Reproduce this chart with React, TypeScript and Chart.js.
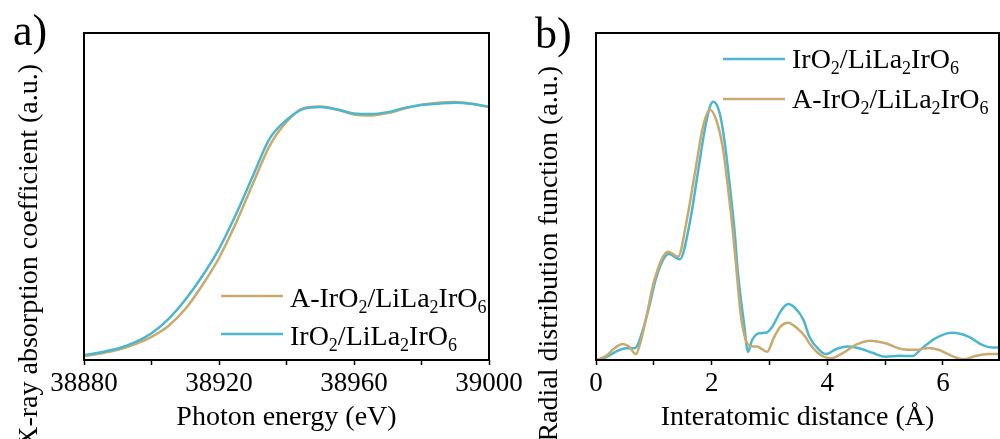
import React, { useEffect, useRef } from 'react';
import { Chart, registerables } from 'chart.js';

Chart.register(...registerables);

// ---------- Data (panel a: XANES) ----------
const energy = [
  38880, 38885, 38890, 38895, 38900, 38905, 38910, 38915, 38920, 38925, 38930, 38935,
  38940, 38945, 38950, 38955, 38960, 38965, 38970, 38975, 38980, 38985, 38990, 38995, 39000,
];
const xanesAIrO2 = [
  0.012, 0.02, 0.031, 0.048, 0.071, 0.104, 0.156, 0.228, 0.312, 0.418, 0.538, 0.655,
  0.728, 0.77, 0.775, 0.766, 0.751, 0.748, 0.755, 0.769, 0.781, 0.787, 0.789, 0.784, 0.774,
];
const xanesIrO2 = [
  0.015, 0.024, 0.035, 0.054, 0.082, 0.125, 0.184, 0.256, 0.34, 0.445, 0.562, 0.677,
  0.734, 0.768, 0.774, 0.766, 0.754, 0.752, 0.758, 0.771, 0.78, 0.784, 0.787, 0.783, 0.774,
];
const energyTicks = [38880, 38900, 38920, 38940, 38960, 38980, 39000];
const energyLabels = [38880, 38920, 38960, 39000];

// ---------- Data (panel b: Fourier transform EXAFS) ----------
const rIrO2 = [
  0, 0.17, 0.34, 0.52, 0.66, 0.72, 0.81, 0.92, 1.03, 1.16, 1.26, 1.45, 1.62, 1.76, 1.88,
  1.97, 2.03, 2.14, 2.22, 2.31, 2.4, 2.45, 2.56, 2.63, 2.7, 2.82, 2.93, 3.05, 3.19, 3.32,
  3.45, 3.59, 3.69, 3.86, 3.98, 4.15, 4.35, 4.55, 4.78, 5.01, 5.24, 5.47, 5.64, 5.87,
  6.16, 6.45, 6.68, 6.85, 7.0,
];
const ftIrO2 = [
  0, 0.008, 0.025, 0.036, 0.036, 0.046, 0.092, 0.163, 0.245, 0.306, 0.324, 0.308, 0.418,
  0.571, 0.703, 0.775, 0.79, 0.754, 0.673, 0.54, 0.387, 0.275, 0.112, 0.025, 0.061,
  0.082, 0.083, 0.102, 0.148, 0.171, 0.158, 0.122, 0.071, 0.031, 0.018, 0.033, 0.041,
  0.036, 0.022, 0.01, 0.013, 0.012, 0.036, 0.066, 0.083, 0.071, 0.046, 0.038, 0.038,
];
const rAIrO2 = [
  0, 0.17, 0.32, 0.46, 0.57, 0.69, 0.78, 0.86, 1.01, 1.25, 1.42, 1.56, 1.71, 1.85, 1.97,
  2.08, 2.19, 2.28, 2.37, 2.43, 2.5, 2.59, 2.67, 2.79, 2.87, 2.96, 3.07, 3.19, 3.32,
  3.48, 3.62, 3.69, 3.86, 4.06, 4.26, 4.49, 4.75, 5.01, 5.3, 5.53, 5.76, 5.93, 6.16,
  6.36, 6.56, 6.79, 7.0,
];
const ftAIrO2 = [
  0, 0.012, 0.036, 0.049, 0.041, 0.018, 0.061, 0.122, 0.245, 0.331, 0.316, 0.418, 0.571,
  0.713, 0.765, 0.734, 0.652, 0.53, 0.387, 0.275, 0.143, 0.061, 0.043, 0.041, 0.033,
  0.025, 0.066, 0.102, 0.114, 0.097, 0.071, 0.051, 0.018, 0.005, 0.02, 0.046, 0.059,
  0.051, 0.033, 0.031, 0.037, 0.031, 0.012, 0.002, 0.012, 0.018, 0.018,
];
const rTicks = [0, 1, 2, 3, 4, 5, 6];
const rLabels = [0, 2, 4, 6];

const labelAIrO2 = 'A-IrO_2/LiLa_2IrO_6';
const labelIrO2 = 'IrO_2/LiLa_2IrO_6';

const TEAL = '#4DB6CF';
const TAN = '#C9AA6E';
const FONT = '"Liberation Serif", "Times New Roman", serif';

function drawRich(ctx: CanvasRenderingContext2D, text: string, x: number, y: number, size: number) {
  const parts = text.split(/(_\d)/);
  let cx = x;
  ctx.textAlign = 'left';
  ctx.textBaseline = 'alphabetic';
  for (const p of parts) {
    if (!p) continue;
    if (p[0] === '_') {
      const s = p.slice(1);
      ctx.font = `${Math.round(size * 0.65)}px ${FONT}`;
      ctx.fillText(s, cx, y + size * 0.22);
      cx += ctx.measureText(s).width;
    } else {
      ctx.font = `${size}px ${FONT}`;
      ctx.fillText(p, cx, y);
      cx += ctx.measureText(p).width;
    }
  }
}

const decor = {
  id: 'decor',
  afterDraw(chart: any, _args: any, opts: any) {
    const { ctx, chartArea: ca } = chart;
    ctx.save();
    ctx.strokeStyle = '#000';
    ctx.lineWidth = 2;
    ctx.strokeRect(ca.left, ca.top, ca.right - ca.left, ca.bottom - ca.top);

    ctx.fillStyle = '#000';
    // panel letter
    ctx.font = `44px ${FONT}`;
    ctx.textAlign = 'left';
    ctx.textBaseline = 'alphabetic';
    ctx.fillText(opts.letter, opts.letterX, opts.letterY);

    // y title (rotated)
    ctx.save();
    ctx.font = `28px ${FONT}`;
    ctx.translate(opts.yTitleX, opts.yTitleTop);
    ctx.rotate(-Math.PI / 2);
    ctx.textAlign = 'right';
    ctx.textBaseline = 'alphabetic';
    ctx.fillText(opts.yTitle, 0, 0);
    ctx.restore();

    // legend
    const lg = opts.legend;
    chart.data.datasets.forEach((ds: any, i: number) => {
      const by = lg.y + i * lg.rowGap;
      ctx.strokeStyle = ds.borderColor;
      ctx.lineWidth = 2.5;
      ctx.beginPath();
      ctx.moveTo(lg.x, by - lg.lineOffset);
      ctx.lineTo(lg.x + lg.lineLen, by - lg.lineOffset);
      ctx.stroke();
      ctx.fillStyle = '#000';
      drawRich(ctx, ds.label, lg.x + lg.lineLen + lg.textGap, by, 28);
    });
    ctx.restore();
  },
};

function baseOptions(xMin: number, xMax: number, tickVals: number[], labelVals: number[], xTitle: string, pad: any, decorOpts: any) {
  return {
    responsive: false,
    animation: false,
    layout: { padding: pad },
    plugins: {
      legend: { display: false },
      tooltip: { enabled: false },
      decor: decorOpts,
    },
    elements: { point: { radius: 0 } },
    scales: {
      x: {
        type: 'linear',
        min: xMin,
        max: xMax,
        afterBuildTicks: (s: any) => {
          s.ticks = tickVals.map((v) => ({ value: v }));
        },
        afterFit: (s: any) => {
          s.height = 79;
        },
        grid: {
          drawOnChartArea: false,
          drawTicks: true,
          tickLength: 5,
          tickWidth: 1.5,
          tickColor: '#000',
        },
        border: { display: false },
        ticks: {
          autoSkip: false,
          maxRotation: 0,
          minRotation: 0,
          padding: 3,
          color: '#000',
          font: { family: FONT, size: 27, lineHeight: 1.2 },
          callback: (v: any) => (labelVals.includes(Number(v)) ? String(v) : ''),
        },
        title: {
          display: true,
          text: xTitle,
          color: '#000',
          font: { family: FONT, size: 28, lineHeight: 1.2 },
          padding: { top: 0, bottom: 5 },
        },
      },
      y: {
        type: 'linear',
        min: 0,
        max: 1,
        afterFit: (s: any) => {
          s.width = 0;
        },
        grid: { display: false },
        border: { display: false },
        ticks: { display: false },
      },
    },
  };
}

function PanelA() {
  const ref = useRef<HTMLCanvasElement>(null);
  useEffect(() => {
    const chart = new Chart(ref.current as HTMLCanvasElement, {
      type: 'line',
      data: {
        datasets: [
          {
            label: labelAIrO2,
            data: energy.map((e, i) => ({ x: e, y: xanesAIrO2[i] })),
            borderColor: TAN,
            borderWidth: 2.5,
            cubicInterpolationMode: 'monotone',
            order: 2,
          },
          {
            label: labelIrO2,
            data: energy.map((e, i) => ({ x: e, y: xanesIrO2[i] })),
            borderColor: TEAL,
            borderWidth: 2.5,
            cubicInterpolationMode: 'monotone',
            order: 1,
          },
        ],
      },
      options: baseOptions(
        38880,
        39000,
        energyTicks,
        energyLabels,
        'Photon energy (eV)',
        { left: 84, right: 41, top: 33, bottom: 0 },
        {
          letter: 'a)',
          letterX: 13,
          letterY: 45,
          yTitle: 'X-ray absorption coefficient (a.u.)',
          yTitleX: 37,
          yTitleTop: 64,
          legend: { x: 221, y: 307, rowGap: 38, lineLen: 62, textGap: 7, lineOffset: 11 },
        }
      ) as any,
      plugins: [decor],
    });
    return () => chart.destroy();
  }, []);
  return (
    <canvas
      ref={ref}
      width={530}
      height={439}
      style={{ position: 'absolute', left: 0, top: 0, width: 530, height: 439 }}
    />
  );
}

function PanelB() {
  const ref = useRef<HTMLCanvasElement>(null);
  useEffect(() => {
    const chart = new Chart(ref.current as HTMLCanvasElement, {
      type: 'line',
      data: {
        datasets: [
          {
            label: labelIrO2,
            data: rIrO2.map((r, i) => ({ x: r, y: ftIrO2[i] })),
            borderColor: TEAL,
            borderWidth: 2.5,
            cubicInterpolationMode: 'monotone',
            order: 2,
          },
          {
            label: labelAIrO2,
            data: rAIrO2.map((r, i) => ({ x: r, y: ftAIrO2[i] })),
            borderColor: TAN,
            borderWidth: 2.5,
            cubicInterpolationMode: 'monotone',
            order: 1,
          },
        ],
      },
      options: baseOptions(
        0,
        6.97,
        rTicks,
        rLabels,
        'Interatomic distance (Å)',
        { left: 96, right: 1, top: 33, bottom: 0 },
        {
          letter: 'b)',
          letterX: 35,
          letterY: 48,
          yTitle: 'Radial distribution function (a.u.)',
          yTitleX: 57,
          yTitleTop: 66,
          legend: { x: 223, y: 68, rowGap: 40, lineLen: 62, textGap: 7, lineOffset: 9 },
        }
      ) as any,
      plugins: [decor],
    });
    return () => chart.destroy();
  }, []);
  return (
    <canvas
      ref={ref}
      width={500}
      height={439}
      style={{ position: 'absolute', left: 500, top: 0, width: 500, height: 439 }}
    />
  );
}

export default function App() {
  return (
    <div
      style={{
        position: 'fixed',
        left: 0,
        top: 0,
        width: 1000,
        height: 439,
        background: '#fff',
        overflow: 'hidden',
      }}
    >
      <PanelA />
      <PanelB />
    </div>
  );
}
